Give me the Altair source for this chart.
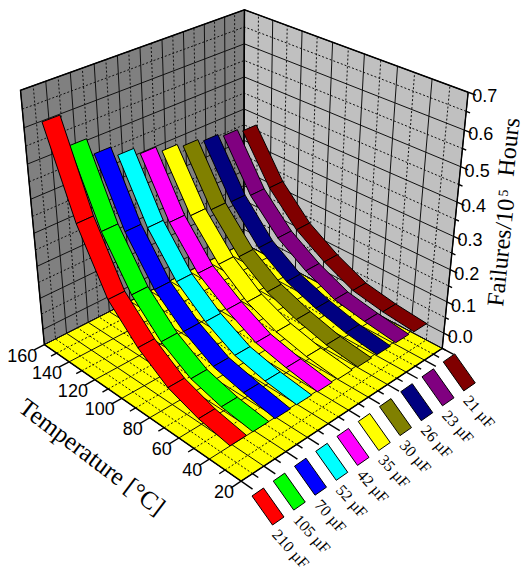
import numpy as np
import altair as alt

W, H = 516, 563
temps = [30, 50, 70, 90, 110, 130, 150]
names = ["210 µF","105 µF","70 µF","52 µF","42 µF","35 µF","30 µF","26 µF","23 µF","21 µF"]
colors = ["#FF0000","#00FF00","#0000FF","#00FFFF","#FF00FF","#FFFF00","#808000","#000080","#800080","#800000"]
s = [
 [.014,.032,.065,.128,.218,.390,.629],
 [.013,.026,.052,.108,.197,.336,.538],
 [.010,.028,.050,.102,.178,.304,.488],
 [.011,.024,.046,.096,.168,.285,.457],
 [.010,.026,.048,.097,.160,.270,.434],
 [.009,.022,.045,.086,.155,.260,.415],
 [.008,.021,.047,.083,.146,.248,.403],
 [.008,.022,.047,.082,.142,.243,.392],
 [.008,.022,.040,.083,.142,.234,.381],
 [.006,.017,.035,.079,.137,.229,.370]]
t_ticks = [20,40,60,80,100,120,140,160]
z_ticks = [0.0,0.1,0.2,0.3,0.4,0.5,0.6,0.7]
ZMIN, ZMAX = -0.05, 0.7
tn = lambda t: (t-20)/140
zn = lambda z: (z-ZMIN)/(ZMAX-ZMIN)
cor = [((0,0,0),(233,473)),((1,0,0),(36,337)),((0,1,0),(433.5,340)),((1,1,0),(236,235)),
       ((1,0,1),(13,82)),((0,1,1),(459,83)),((1,1,1),(236,2)),
       ((0,1,zn(0)),(436.5,325)),((0,1,zn(.3)),(444.7,229)),((0,1,zn(.5)),(454.7,160))]
A=[]
for (a,b,c),(x,y) in cor:
    X=[a,b,c,1]
    A.append([*X,0,0,0,0,*[-x/500*v for v in X]])
    A.append([0,0,0,0,*X,*[-y/500*v for v in X]])
P=np.linalg.svd(np.array(A))[2][-1].reshape(3,4)
P[:2]*=500
def pr(a,b,c):
    v=P@np.array([a,b,c,1.0]); return [float(v[0]/v[2]),float(v[1]/v[2])]
C0,DC,WD=0.022,0.1,0.072
def poly(pts,**k): return {"type":"Feature","geometry":{"type":"Polygon","coordinates":[pts+[pts[0]]]},"properties":k}
def line(pts): return {"type":"Feature","geometry":{"type":"LineString","coordinates":pts},"properties":{}}
def gs(data,**k): return alt.Chart(alt.Data(values=data)).mark_geoshape(**k).project(**{"type":"identity","scale":1,"translate":[0,0]})
walls=[poly([pr(1,0,0),pr(1,1,0),pr(1,1,1),pr(1,0,1)],f="#808080"),
       poly([pr(0,1,0),pr(1,1,0),pr(1,1,1),pr(0,1,1)],f="#C0C0C0"),
       poly([pr(0,0,0),pr(1,0,0),pr(1,1,0),pr(0,1,0)],f="#FFFF00")]
maj,mino=[],[]
for k in range(1,15):
    t=k/14; L=maj if k%2==0 else mino
    L.append(line([pr(t,0,0),pr(t,1,0),pr(t,1,1)]))
for k in range(1,21):
    c=k/20; L=maj if k%2==0 else mino
    L.append(line([pr(0,c,0),pr(1,c,0),pr(1,c,1)]))
for k in range(0,14):
    z=k*.05; L=maj if k%2==0 else mino
    L.append(line([pr(1,0,zn(z)),pr(1,1,zn(z)),pr(0,1,zn(z))]))
frame=[line([pr(1,0,0),pr(0,0,0),pr(0,1,0)]),line([pr(0,1,0),pr(0,1,1)]),
       line([pr(1,0,0),pr(1,0,1),pr(1,1,1),pr(0,1,1)]),line([pr(1,1,0),pr(1,1,1)])]
for k in range(15):
    t=k/14; frame.append(line([pr(t,0,0),pr(t,-.045 if k%2==0 else -.025,0)]))
for k in range(21):
    c=k/20; frame.append(line([pr(0,c,0),pr(-.05 if k%2==0 else -.025,c,0)]))
for k in range(-1,15):
    z=k*.05; frame.append(line([pr(0,1,zn(z)),pr(-.03 if k%2==0 else -.015,1,zn(z))]))
rib=[]
for i in range(9,-1,-1):
    c0=C0+i*DC; c1=c0+WD
    for j in range(6,0,-1):
        a,b=tn(temps[j]),tn(temps[j-1])
        rib.append(poly([pr(a,c0,zn(s[i][j])),pr(a,c1,zn(s[i][j])),pr(b,c1,zn(s[i][j-1])),pr(b,c0,zn(s[i][j-1]))],f=colors[i]))
leg=[];legt=[]
for i in range(10):
    ox,oy=244+21.25*i,488-14.9*i
    leg.append(poly([[ox,oy],[ox+11.5,oy-8],[ox+32,oy+21],[ox+20.5,oy+29]],f=colors[i]))
    legt.append({"x":ox+23,"y":oy+36,"t":names[i]})
tl=[{"x":pr(tn(t),0,0)[0]-7,"y":pr(tn(t),0,0)[1]+12,"t":str(t)} for t in t_ticks]
zl=[{"x":pr(0,1,zn(z))[0]+4,"y":pr(0,1,zn(z))[1]+5,"t":f"{z:.1f}"} for z in z_ticks]
xs=alt.Scale(domain=[0,W],range=[0,W]); ys=alt.Scale(domain=[H,0])
enc=dict(x=alt.X("x:Q",scale=xs,axis=None),y=alt.Y("y:Q",scale=ys,axis=None),text="t:N")
def tx(data,**k): return alt.Chart(alt.Data(values=data)).mark_text(**k).encode(**enc)
SANS="Liberation Sans"; SERIF="Liberation Serif"
layers=[gs(walls,stroke="black",strokeWidth=1).encode(fill=alt.Fill("properties.f:N",scale=None)),
 gs(maj,filled=False,stroke="#111",strokeWidth=1),
 gs(mino,filled=False,stroke="#111",strokeWidth=1,strokeDash=[2,2]),
 gs(frame,filled=False,stroke="black",strokeWidth=1.4),
 gs(rib,stroke="black",strokeWidth=1).encode(fill=alt.Fill("properties.f:N",scale=None)),
 gs(leg,stroke="black",strokeWidth=1).encode(fill=alt.Fill("properties.f:N",scale=None)),
 tx(tl,align="right",baseline="middle",font=SANS,fontSize=18,color="black"),
 tx(zl,align="left",baseline="middle",font=SANS,fontSize=18,color="black"),
 tx(legt,align="left",baseline="middle",font=SERIF,fontSize=16,angle=48,color="black"),
 tx([{"x":84,"y":449,"t":"Temperature [°C]"}],align="center",baseline="middle",font=SERIF,fontSize=25,angle=37,color="black"),
 tx([{"x":495,"y":299,"t":"Failures/10"}],align="left",baseline="alphabetic",font=SERIF,fontSize=24,angle=276,color="black"),
 tx([{"x":499.5,"y":189,"t":"5"}],align="left",baseline="alphabetic",font=SERIF,fontSize=14,angle=276,color="black"),
 tx([{"x":505.5,"y":169,"t":"Hours"}],align="left",baseline="alphabetic",font=SERIF,fontSize=24,angle=276,color="black"),
]
chart=alt.layer(*layers).properties(width=W,height=H,padding=0,autosize=alt.AutoSizeParams(type="none")).configure_view(stroke=None)
chart.save("out.html",embed_options={"renderer":"svg","actions":False})
